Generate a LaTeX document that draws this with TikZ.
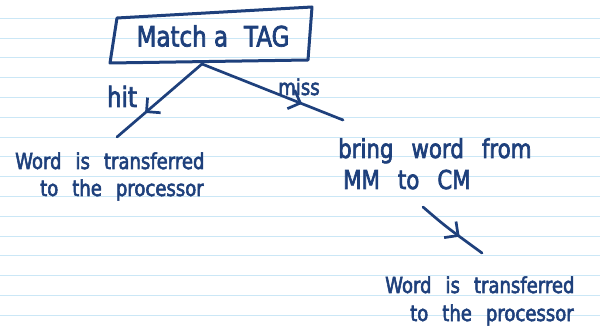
\documentclass[tikz,border=0pt]{standalone}
\usepackage{fontspec}
\setmainfont{DejaVu Sans}[FakeStretch=0.82,FakeBold=2.5]
\usetikzlibrary{arrows.meta,decorations.markings}
\definecolor{ink}{RGB}{30,64,124}
\definecolor{rulecol}{RGB}{203,231,246}
\newcommand\smallhand{\fontsize{22}{26}\selectfont\spaceskip=14pt plus 2pt\relax}
\newcommand\bighand{\fontsize{26}{30}\selectfont\spaceskip=18pt plus 2pt\relax}
\begin{document}
\begin{tikzpicture}[x=1pt,y=-1pt,
  inkline/.style={draw=ink, line width=2.7pt, line cap=round, line join=round},
  midarrow/.style={postaction={decorate}, decoration={markings, mark=at position #1 with {\arrow{Straight Barb[length=10pt,width=20pt]}}}},
  hand/.style={text=ink, inner sep=0pt, anchor=base west},
  small/.style={font=\smallhand},
  big/.style={font=\bighand}]
\fill[white] (0,0) rectangle (600,331);
\useasboundingbox (0,0) rectangle (600,331);
\foreach \k in {0,...,15} \draw[rulecol, line width=1pt] (0,{18.3+19.8*\k}) -- (600,{18.3+19.8*\k});
% box
\draw[inkline, line width=3pt] (117,18) -- (312,7) -- (308,60) -- (110,63) -- cycle;
\node[hand, anchor=center, font=\fontsize{28}{32}\selectfont] (tag) at (213,36) {Match a\hspace{16pt}TAG};
\coordinate (split) at (202,64);
% hit branch
\coordinate (hitend) at (117,137);
\draw[inkline, midarrow=0.67] (split) -- (hitend);
\node[hand, anchor=base, font=\fontsize{28}{32}\selectfont] (hitlbl) at (122,107) {hit};
\node[hand, small] (hitw1) at (15,169) {Word is transferred};
\node[hand, small] (hitw2) at (40,196) {to the processor};
% miss branch
\coordinate (missend) at (343,120);
\draw[inkline, midarrow=0.71] (split) -- (missend);
\node[hand, anchor=base, font=\fontsize{22}{26}\selectfont] (misslbl) at (299,95) {miss};
\node[hand, big] (bring1) at (338,158) {bring word from};
\node[hand, big] (bring2) at (343,189) {MM to CM};
\coordinate (mmstart) at (423,207);
\coordinate (mmend) at (482,253);
\draw[inkline, midarrow=0.63] (mmstart) .. controls (445,226) .. (mmend);
\node[hand, small] (w1) at (385,293) {Word is transferred};
\node[hand, small] (w2) at (410,321) {to the processor};
\end{tikzpicture}
\end{document}
